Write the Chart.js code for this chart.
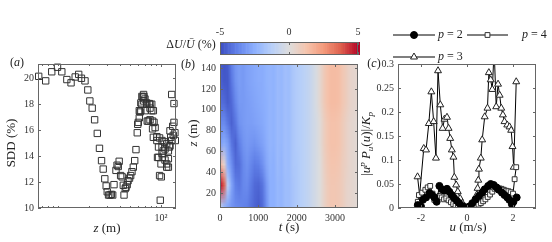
<!DOCTYPE html>
<html>
<head>
<meta charset="utf-8">
<script src="https://cdn.jsdelivr.net/npm/chart.js@4.4.1/dist/chart.umd.min.js"></script>
<style>
  body { margin: 0; background: #fff; }
  #wrap { position: relative; width: 552px; height: 242px; overflow: hidden; }
  canvas { position: absolute; }
</style>
</head>
<body>
<div id="wrap">
  <canvas id="chartA" width="184" height="202" style="left:0px;top:40px"></canvas>
  <canvas id="chartB" width="190" height="202" style="left:170px;top:40px"></canvas>
  <canvas id="chartBar" width="220" height="36" style="left:150px;top:22px"></canvas>
  <canvas id="chartC" width="196" height="222" style="left:356px;top:20px"></canvas>
</div>
<script>
const SERIF = '"Liberation Serif", "Times New Roman", serif';
const INK = '#222';

// (a) standard deviation of the deviation vs height
const zA = [6.5, 7.6, 8.7, 9.9, 10.9, 12.2, 13.4, 14.7, 15.9, 16.9, 18.3, 19.5, 20.4, 21.5, 22.7, 24.1, 25.3, 26.5, 27.5, 28.5,
  29.4, 30.1, 31.0, 32.0, 33.0, 34.0, 35.0, 36.6, 37.5, 38.5, 39.3, 40.6, 42.0, 43.1, 43.8, 45.0, 45.8, 47.0, 47.9, 49.5,
  50.8, 52.3, 53.9, 55.6, 57.2, 58.9, 59.5, 60.3, 61.6, 61.6, 62.7, 63.8, 63.8, 65.3, 65.3, 66.8, 67.8, 67.8, 68.4, 70.0,
  70.0, 72.7, 72.7, 73.6, 75.5, 76.9, 78.3, 78.3, 78.3, 81.4, 81.4, 82.9, 82.9, 84.4, 84.4, 85.7, 87.8, 91.3, 91.3, 92.6,
  94.7, 94.7, 97.0, 97.0, 98.5, 100.1, 100.8, 102.4, 102.4, 102.4, 103.3, 105.3, 107.4, 109.5, 109.5, 113.7, 113.7, 113.7, 118.1, 118.1,
  118.1, 120.9, 122.4, 122.4, 124.3, 127.2, 127.2, 130.1, 131.7, 133.8, 133.8, 136.7, 137.9];
const sddA = [20.15, 19.8, 20.5, 20.85, 20.5, 19.9, 19.65, 20.1, 20.3, 20.0, 19.8, 19.1, 18.25, 17.7, 16.8, 15.75, 14.6, 13.65, 13.0, 12.25,
  11.7, 11.25, 11.0, 11.0, 11.05, 11.0, 11.8, 12.9, 13.3, 13.2, 13.6, 12.5, 12.4, 11.75, 11.0, 11.5, 11.6, 11.8, 12.1, 12.3,
  12.5, 12.8, 13.15, 13.65, 14.5, 15.8, 16.45, 16.6, 16.95, 17.5, 17.4, 17.5, 18.1, 18.0, 18.6, 18.55, 18.75, 18.25, 18.6, 18.4,
  17.5, 18.0, 18.1, 16.7, 16.7, 18.05, 18.0, 17.7, 16.8, 17.5, 18.0, 16.7, 16.1, 17.5, 15.45, 16.6, 16.2, 15.2, 15.5, 13.9,
  14.7, 13.9, 12.5, 15.4, 10.6, 13.4, 12.4, 14.2, 15.2, 14.7, 13.9, 14.4, 15.1, 13.7, 14.55, 13.15, 14.95, 13.4, 13.8, 14.4,
  13.15, 14.7, 14.8, 15.95, 15.45, 15.2, 18.75, 16.3, 15.6, 16.6, 18.05, 15.8, 15.2];
const zTicksA = [100];
const zTickLabelsA = ['10\u00b2'];
const zMinorA = [7, 8, 9, 10, 20, 30, 40, 50, 60, 70, 80, 90];
const sddTicks = [10, 12, 14, 16, 18, 20];

// (b) deviation map, rows bottom to top
const tGrid = [0, 100, 200, 300, 400, 500, 600, 700, 800, 900, 1000, 1100, 1200, 1300, 1400, 1500, 1600, 1700, 1800,
  1900, 2000, 2100, 2200, 2300, 2400, 2500, 2600, 2700, 2800, 2900, 3000, 3100, 3200, 3300, 3400, 3500, 3600];
const zGrid = [8, 28, 48, 68, 88, 108, 128, 148];
const dU_z8 = [-0.8, -2.2, -2.8, -3.2, -3.5, -3.6, -3.7, -3.8, -4.1, -4.4, -4.6, -4.3, -3.4,
  -2.5, -2.5, -2.2, -2.3, -2.0, -2.0, -1.7, -1.5, -1.3, -1.1, -0.9, -0.6, -0.3, 0.0, 0.5, 0.9, 1.1, 1.1, 1.0, 0.8, 0.5, 0.4, 0.3, 0.2];
const dU_z28 = [5.0, 3.8, -1.2, -2.8, -3.8, -4.0, -3.6, -3.5, -3.9, -4.3, -4.4, -4.1, -3.2,
  -2.5, -2.5, -2.2, -2.3, -2.0, -2.0, -1.7, -1.5, -1.3, -1.1, -0.9, -0.6, -0.3, 0.0, 0.5, 0.9, 1.1, 1.1, 1.0, 0.8, 0.5, 0.4, 0.3, 0.2];
const dU_z48 = [1.8, 0.5, -2.6, -3.4, -4.3, -4.2, -3.6, -3.3, -3.6, -3.9, -3.8, -3.4, -2.8,
  -2.4, -2.5, -2.1, -2.3, -1.9, -2.0, -1.6, -1.5, -1.3, -1.1, -0.9, -0.6, -0.3, 0.0, 0.6, 1.0, 1.2, 1.2, 1.1, 0.8, 0.6, 0.4, 0.3, 0.2];
const dU_z68 = [-3.0, -2.6, -3.0, -4.0, -4.5, -3.8, -3.3, -3.1, -3.2, -3.3, -3.1, -2.9, -2.6,
  -2.3, -2.4, -2.1, -2.2, -1.9, -2.0, -1.6, -1.4, -1.3, -1.1, -0.9, -0.6, -0.3, 0.1, 0.7, 1.1, 1.3, 1.3, 1.2, 0.9, 0.6, 0.4, 0.3, 0.2];
const dU_z88 = [-3.6, -3.5, -4.0, -4.5, -4.0, -3.3, -3.1, -3.0, -3.0, -2.9, -2.8, -2.7, -2.5,
  -2.3, -2.4, -2.1, -2.2, -1.9, -2.0, -1.6, -1.4, -1.3, -1.1, -0.9, -0.6, -0.3, 0.1, 0.7, 1.1, 1.3, 1.3, 1.2, 0.9, 0.6, 0.4, 0.3, 0.2];
const dU_z108 = [-4.2, -4.3, -4.6, -4.3, -3.6, -3.1, -3.1, -3.0, -2.9, -2.8, -2.7, -2.6, -2.5,
  -2.3, -2.4, -2.1, -2.2, -1.9, -2.0, -1.6, -1.4, -1.3, -1.1, -0.9, -0.6, -0.2, 0.3, 0.9, 1.3, 1.5, 1.5, 1.4, 1.1, 0.8, 0.5, 0.4, 0.3];
const dU_z128 = [-4.5, -4.7, -4.7, -4.0, -3.3, -3.0, -3.1, -2.9, -2.8, -2.7, -2.6, -2.6, -2.4,
  -2.3, -2.4, -2.1, -2.2, -1.9, -2.0, -1.6, -1.4, -1.3, -1.1, -0.9, -0.6, -0.2, 0.3, 0.9, 1.3, 1.5, 1.5, 1.4, 1.1, 0.8, 0.5, 0.4, 0.3];
const dU_z148 = [-4.6, -4.8, -4.6, -3.8, -3.2, -3.0, -3.1, -2.9, -2.8, -2.7, -2.6, -2.6, -2.4,
  -2.3, -2.4, -2.1, -2.2, -1.9, -2.0, -1.6, -1.4, -1.3, -1.1, -0.9, -0.6, -0.2, 0.3, 0.9, 1.3, 1.5, 1.5, 1.4, 1.1, 0.8, 0.5, 0.4, 0.3];
const heatRows = [dU_z8, dU_z28, dU_z48, dU_z68, dU_z88, dU_z108, dU_z128, dU_z148];
const tTicks = [0, 1000, 2000, 3000];
const zTicksB = [20, 40, 60, 80, 100, 120, 140];
const barTicks = [-5, 0, 5];
const barTickLabels = ['-5', '0', '5'];

// (c) normalised moments
const u2 = [-2.14, -2.0, -1.92, -1.78, -1.63, -1.52, -1.42, -1.32, -1.2, -1.09, -0.98, -0.87, -0.77, -0.66, -0.56, -0.44, -0.34, -0.2, -0.06,
  0.09, 0.23, 0.37, 0.52, 0.66, 0.77, 0.92, 1.03, 1.16, 1.28, 1.38, 1.52, 1.63, 1.75, 1.84, 1.95, 2.02, 2.16];
const v2 = [0.006, 0.003, 0.017, 0.022, 0.031, 0.027, 0.022, 0.013, 0.046, 0.039, 0.036, 0.04, 0.034, 0.027, 0.021, 0.015, 0.01, 0.004, 0.001,
  0.003, 0.01, 0.018, 0.025, 0.032, 0.039, 0.046, 0.05, 0.048, 0.043, 0.038, 0.032, 0.027, 0.022, 0.017, 0.008, 0.013, 0.022];
const u4 = [-2.14, -2.09, -1.95, -1.81, -1.71, -1.6, -1.5, -1.42, -1.32, -1.2, -1.1, -1.0, -0.9, -0.8, -0.7, -0.6, -0.5, -0.4, -0.3, -0.2, -0.1, 0,
  0.1, 0.2, 0.3, 0.4, 0.5, 0.6, 0.7, 0.8, 0.9, 1.0, 1.1, 1.2, 1.3, 1.4, 1.5, 1.6, 1.7, 1.8, 1.9, 2.0, 2.07, 2.14];
const v4 = [0.013, 0.027, 0.032, 0.038, 0.043, 0.046, 0.03, 0.017, 0.02, 0.025, 0.022, 0.018, 0.02, 0.016, 0.012, 0.008, 0.005, 0.003, 0.002, 0.001, 0, 0,
  0, 0.001, 0.002, 0.004, 0.007, 0.01, 0.014, 0.018, 0.023, 0.028, 0.034, 0.04, 0.042, 0.041, 0.04, 0.038, 0.036, 0.035, 0.033, 0.03, 0.06, 0.085];
const u3 = [-2.15, -2.06, -1.88, -1.78, -1.66, -1.55, -1.45, -1.35, -1.26, -1.16, -1.06, -0.98, -0.87, -0.8, -0.73, -0.66, -0.59, -0.55, -0.47, -0.4,
  -0.3, -0.2, -0.1, 0, 0.1, 0.2, 0.31, 0.42, 0.46, 0.49, 0.52, 0.6, 0.66, 0.77, 0.89, 0.95, 1.03, 1.1, 1.18, 1.27,
  1.35, 1.42, 1.49, 1.56, 1.63, 1.75, 1.85, 1.92, 1.98, 2.03, 2.14];
const v3 = [0.065, 0.027, 0.124, 0.121, 0.176, 0.242, 0.18, 0.104, 0.286, 0.215, 0.166, 0.185, 0.189, 0.166, 0.145, 0.121, 0.106, 0.064, 0.048, 0.034,
  0.02, 0.01, 0.003, 0, 0.001, 0.003, 0.013, 0.027, 0.041, 0.058, 0.081, 0.104, 0.142, 0.19, 0.208, 0.282, 0.267, 0.247, 0.33, 0.211,
  0.258, 0.235, 0.208, 0.194, 0.18, 0.173, 0.169, 0.162, 0.128, 0.085, 0.263];
const uTicks = [-2, 0, 2];
const pTicks = [0, 0.05, 0.1, 0.15, 0.2, 0.25, 0.3];
const pTickLabels = ['0', '0.05', '0.1', '0.15', '0.2', '0.25', '0.3'];

// coolwarm colour map, -5 .. 5
const cwStops = [[59, 76, 192], [98, 130, 234], [141, 176, 254], [184, 208, 249], [221, 221, 221],
  [245, 196, 173], [244, 154, 123], [222, 96, 77], [180, 4, 38]];
function coolwarm(v) {
  let f = (Math.max(-5, Math.min(5, v)) + 5) / 10 * (cwStops.length - 1);
  const i = Math.min(Math.floor(f), cwStops.length - 2);
  f -= i;
  return cwStops[i].map((c, k) => Math.round(c + (cwStops[i + 1][k] - c) * f));
}

// mixed italic / sub / sup text
function rich(ctx, parts, x, y, size, opt) {
  opt = opt || {};
  ctx.save();
  ctx.translate(x, y);
  if (opt.rot) ctx.rotate(opt.rot);
  ctx.textBaseline = 'middle';
  ctx.textAlign = 'left';
  ctx.fillStyle = INK;
  const laid = parts.map(p => {
    const s = (p.sub || p.sup) ? Math.round(size * 0.72) : size;
    const font = (p.it ? 'italic ' : '') + s + 'px ' + SERIF;
    ctx.font = font;
    return {p, font, w: ctx.measureText(p.t).width};
  });
  const total = laid.reduce((a, l) => a + l.w, 0);
  let cx = opt.align === 'left' ? 0 : -total / 2;
  laid.forEach(l => {
    ctx.font = l.font;
    const dy = l.p.sup ? -size * 0.33 : l.p.sub ? size * 0.28 : 0;
    ctx.fillText(l.p.t, cx, dy);
    cx += l.w;
  });
  ctx.restore();
}

function makeLabels(items) {
  return {
    id: 'labels',
    afterDraw(chart) {
      items.forEach(it => rich(chart.ctx, it.parts, it.x, it.y, it.size, it));
    }
  };
}

// axes box with inward ticks, matlab style
function makeFrame(cfg) {
  return {
    id: 'frame',
    afterDatasetsDraw(chart) {
      const {ctx, chartArea: a, scales} = chart;
      ctx.save();
      ctx.strokeStyle = '#666';
      ctx.lineWidth = 1;
      ctx.beginPath();
      const xt = (v, len) => {
        const p = Math.round(scales.x.getPixelForValue(v)) + 0.5;
        ctx.moveTo(p, a.bottom); ctx.lineTo(p, a.bottom - len);
        ctx.moveTo(p, a.top); ctx.lineTo(p, a.top + len);
      };
      scales.x.ticks.forEach(t => xt(t.value, 3));
      (cfg.xMinor || []).forEach(v => xt(v, 2));
      if (!cfg.noY) {
        scales.y.ticks.forEach(t => {
          const p = Math.round(scales.y.getPixelForValue(t.value)) + 0.5;
          ctx.moveTo(a.left, p); ctx.lineTo(a.left + 3, p);
          ctx.moveTo(a.right, p); ctx.lineTo(a.right - 3, p);
        });
      }
      ctx.stroke();
      ctx.strokeRect(Math.round(a.left) + 0.5, Math.round(a.top) + 0.5, Math.round(a.width) - 1, Math.round(a.height) - 1);
      ctx.restore();
    }
  };
}

const heatPlugin = {
  id: 'heat',
  beforeDatasetsDraw(chart) {
    const {ctx, chartArea: a, scales: {x, y}} = chart;
    const off = document.createElement('canvas');
    off.width = tGrid.length;
    off.height = zGrid.length;
    const oc = off.getContext('2d');
    const img = oc.createImageData(off.width, off.height);
    heatRows.forEach((row, r) => {
      const py = off.height - 1 - r;
      row.forEach((v, c) => {
        const rgb = coolwarm(v);
        const k = (py * off.width + c) * 4;
        img.data[k] = rgb[0]; img.data[k + 1] = rgb[1]; img.data[k + 2] = rgb[2]; img.data[k + 3] = 255;
      });
    });
    oc.putImageData(img, 0, 0);
    const dt = tGrid[1] - tGrid[0], dz = zGrid[1] - zGrid[0];
    const x0 = x.getPixelForValue(tGrid[0] - dt / 2);
    const x1 = x.getPixelForValue(tGrid[tGrid.length - 1] + dt / 2);
    const y0 = y.getPixelForValue(zGrid[zGrid.length - 1] + dz / 2);
    const y1 = y.getPixelForValue(zGrid[0] - dz / 2);
    ctx.save();
    ctx.beginPath();
    ctx.rect(a.left, a.top, a.width, a.height);
    ctx.clip();
    ctx.imageSmoothingEnabled = true;
    ctx.drawImage(off, x0, y0, x1 - x0, y1 - y0);
    ctx.restore();
  }
};

const barPlugin = {
  id: 'bar',
  beforeDatasetsDraw(chart) {
    const {ctx, chartArea: a, scales: {x}} = chart;
    for (let v = -5; v < 5; v += 0.1) {
      const p0 = x.getPixelForValue(v), p1 = x.getPixelForValue(v + 0.1);
      ctx.fillStyle = 'rgb(' + coolwarm(v + 0.05).join(',') + ')';
      ctx.fillRect(p0, a.top, p1 - p0 + 0.6, a.height);
    }
  }
};

const legendC = {
  id: 'legendC',
  afterDraw(chart) {
    const ctx = chart.ctx;
    const spots = [{ds: 0, x0: 37, x1: 79, y: 15, tx: 82}, {ds: 1, x0: 111, x1: 152, y: 15, tx: 166},
      {ds: 2, x0: 37, x1: 79, y: 37, tx: 82}];
    spots.forEach(s => {
      const d = chart.data.datasets[s.ds];
      ctx.save();
      ctx.strokeStyle = s.ds === 2 ? '#555' : '#000';
      ctx.lineWidth = s.ds === 2 ? 1.5 : 1;
      ctx.beginPath();
      ctx.moveTo(s.x0, s.y); ctx.lineTo(s.x1, s.y);
      ctx.stroke();
      ctx.fillStyle = d.pointBackgroundColor;
      ctx.strokeStyle = d.pointBorderColor;
      ctx.lineWidth = 1;
      Chart.helpers.drawPoint(ctx, {pointStyle: d.pointStyle, radius: d.pointRadius, rotation: 0, borderWidth: 1},
        (s.x0 + s.x1) / 2, s.y);
      ctx.restore();
      rich(ctx, [{t: 'p', it: true}, {t: ' = ' + d.label}], s.tx, s.y, 12, {align: 'left'});
    });
  }
};

function axis(min, max, ticks, labels, extra) {
  return Object.assign({
    min, max,
    grid: {display: false, drawTicks: false},
    border: {display: false},
    afterBuildTicks: s => { s.ticks = ticks.map(v => ({value: v})); },
    ticks: {font: {family: SERIF, size: 10}, color: '#333', padding: 4, autoSkip: false, maxRotation: 0,
      callback: (v, i) => labels[i]}
  }, extra);
}

const common = {
  responsive: false, animation: false, devicePixelRatio: 1, events: [],
  plugins: {legend: {display: false}, tooltip: {enabled: false}}
};
const pts = (xs, ys) => xs.map((x, i) => ({x, y: ys[i]}));

new Chart(document.getElementById('chartA'), {
  type: 'scatter',
  data: {datasets: [{data: pts(zA, sddA), pointStyle: 'rect', pointRadius: 4.5, borderColor: '#333',
    backgroundColor: 'rgba(0,0,0,0)', borderWidth: 1, clip: false}]},
  options: Object.assign({}, common, {
    layout: {padding: {top: 24, right: 8, left: 0, bottom: 0}},
    scales: {
      x: axis(6.4, 140, zTicksA, zTickLabelsA, {type: 'logarithmic', afterFit: s => { s.height = 34; }}),
      y: axis(10, 21.1, sddTicks, sddTicks.map(String), {afterFit: s => { s.width = 38; }})
    }
  }),
  plugins: [makeFrame({xMinor: zMinorA}), makeLabels([
    {parts: [{t: '('}, {t: 'a', it: true}, {t: ')'}], x: 17, y: 23, size: 12},
    {parts: [{t: 'SDD (%)'}], x: 12, y: 103, size: 13, rot: -Math.PI / 2},
    {parts: [{t: 'z', it: true}, {t: ' (m)'}], x: 107, y: 189, size: 13}
  ])]
});

new Chart(document.getElementById('chartB'), {
  type: 'scatter',
  data: {datasets: []},
  options: Object.assign({}, common, {
    layout: {padding: {top: 24, right: 2, left: 0, bottom: 0}},
    scales: {
      x: axis(0, 3600, tTicks, tTicks.map(String), {type: 'linear', afterFit: s => { s.height = 34; }}),
      y: axis(5.6, 144, zTicksB, zTicksB.map(String), {type: 'linear', afterFit: s => { s.width = 50; }})
    }
  }),
  plugins: [heatPlugin, makeFrame({}), makeLabels([
    {parts: [{t: '('}, {t: 'b', it: true}, {t: ')'}], x: 18, y: 25, size: 12},
    {parts: [{t: 'z', it: true}, {t: ' (m)'}], x: 24, y: 93, size: 13, rot: -Math.PI / 2},
    {parts: [{t: 't', it: true}, {t: ' (s)'}], x: 119, y: 188, size: 13}
  ])]
});

new Chart(document.getElementById('chartBar'), {
  type: 'scatter',
  data: {datasets: []},
  options: Object.assign({}, common, {
    layout: {padding: {top: 0, right: 12, left: 70, bottom: 3}},
    scales: {
      x: axis(-5, 5, barTicks, barTickLabels, {type: 'linear', position: 'top', afterFit: s => { s.height = 20; }}),
      y: {display: false, min: 0, max: 1}
    }
  }),
  plugins: [barPlugin, makeFrame({noY: true}), makeLabels([
    {parts: [{t: '\u0394'}, {t: 'U', it: true}, {t: '/'}, {t: '\u016a', it: true}, {t: ' (%)'}], x: 41, y: 23, size: 12}
  ])]
});

new Chart(document.getElementById('chartC'), {
  type: 'scatter',
  data: {datasets: [
    {label: '2', data: pts(u2, v2), showLine: true, borderColor: '#000', borderWidth: 1, pointStyle: 'circle', pointRadius: 3.5,
      pointBackgroundColor: '#000', pointBorderColor: '#000', order: 0},
    {label: '4', data: pts(u4, v4), showLine: true, borderColor: '#000', borderWidth: 1, pointStyle: 'rect', pointRadius: 3.4,
      pointBackgroundColor: '#fff', pointBorderColor: '#333', order: 1},
    {label: '3', data: pts(u3, v3), showLine: true, borderColor: '#000', borderWidth: 1, pointStyle: 'triangle', pointRadius: 4,
      pointBackgroundColor: '#fff', pointBorderColor: '#222', order: 2}
  ]},
  options: Object.assign({}, common, {
    layout: {padding: {top: 44, right: 16, left: 0, bottom: 0}},
    scales: {
      x: axis(-3, 3, uTicks, uTicks.map(String), {type: 'linear', afterFit: s => { s.height = 34; }}),
      y: axis(0, 0.3, pTicks, pTickLabels, {type: 'linear', afterFit: s => { s.width = 42; }})
    }
  }),
  plugins: [makeFrame({}), legendC, makeLabels([
    {parts: [{t: '('}, {t: 'c', it: true}, {t: ')'}], x: 18, y: 44, size: 12},
    {parts: [{t: '|'}, {t: 'u', it: true}, {t: 'p', it: true, sup: true}, {t: ' P', it: true}, {t: 'u', it: true, sub: true},
      {t: '('}, {t: 'u', it: true}, {t: ')|/'}, {t: 'K', it: true}, {t: 'p', it: true, sub: true}], x: 11, y: 124, size: 13, rot: -Math.PI / 2},
    {parts: [{t: 'u', it: true}, {t: ' (m/s)'}], x: 112, y: 208, size: 13}
  ])]
});
</script>
</body>
</html>
